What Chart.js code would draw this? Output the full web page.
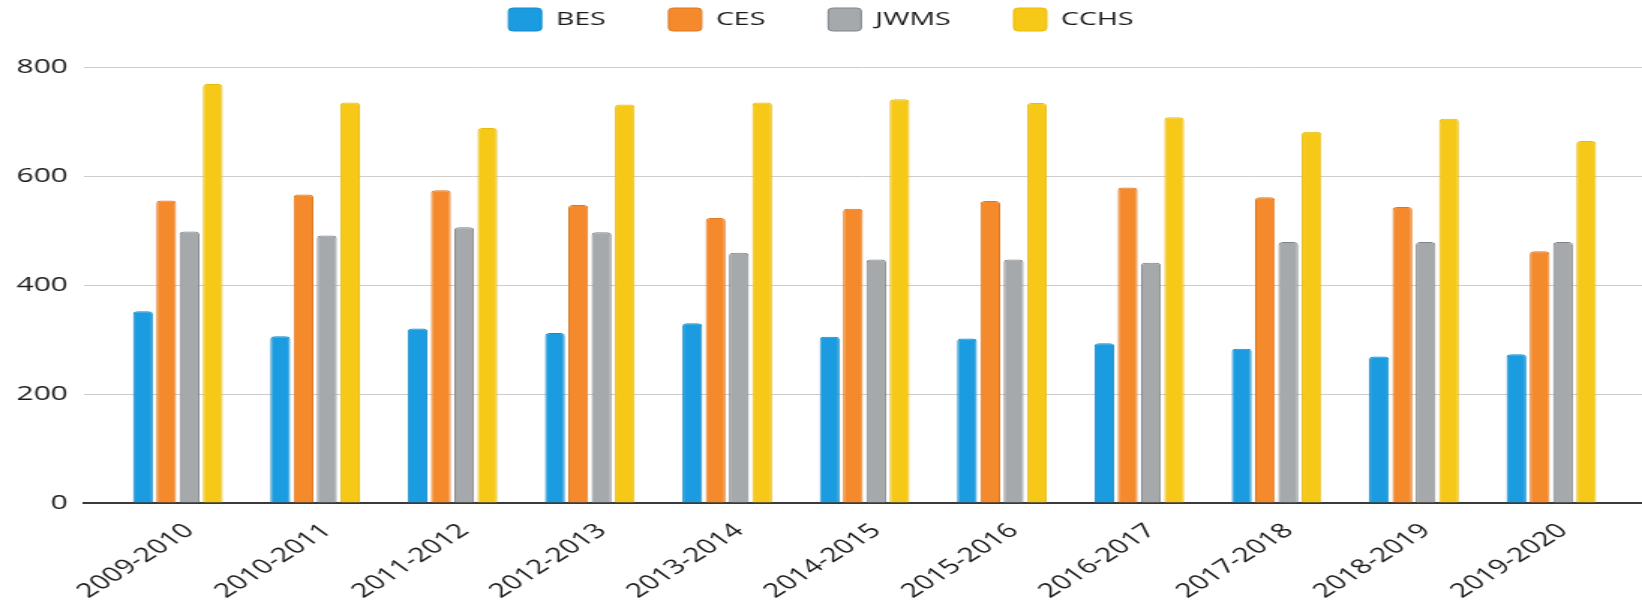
<!DOCTYPE html>
<html lang="en">
<head>
    <meta charset="UTF-8">
    <title>Enrollment by School</title>
    <script src="https://cdn.jsdelivr.net/npm/chart.js"></script>
    <style>
        html, body { margin: 0; padding: 0; background: #fff; overflow: hidden; }
        /* chart is laid out narrow and stretched sideways like the printed original */
        .stretch {
            width: 1095px;
            height: 603px;
            transform: scaleX(1.4995);
            transform-origin: 0 0;
        }
    </style>
</head>
<body>
    <div class="stretch">
        <canvas id="enrollChart"></canvas>
    </div>

    <script>
        const seasons = ['2009-2010', '2010-2011', '2011-2012', '2012-2013', '2013-2014', '2014-2015',
                         '2015-2016', '2016-2017', '2017-2018', '2018-2019', '2019-2020'];
        const besValues  = [352, 306, 320, 312, 330, 305, 302, 293, 283, 269, 273];
        const cesValues  = [555, 566, 574, 547, 523, 540, 554, 579, 561, 543, 462];
        const jwmsValues = [498, 491, 506, 497, 459, 447, 447, 441, 479, 479, 479];
        const cchsValues = [769, 735, 688, 731, 735, 741, 734, 708, 681, 705, 664];
        const yTicks = [0, 200, 400, 600, 800];

        Chart.defaults.font.family = "'Open Sans', sans-serif";
        Chart.defaults.color = '#1a1a1a';

        // x is a linear index axis so the plot can run a little past the outer groups
        const points = vals => vals.map((v, i) => ({ x: i, y: v }));

        const barStyle = {
            borderWidth: 1,
            borderSkipped: 'bottom',
            borderRadius: { topLeft: 3, topRight: 3, bottomLeft: 0, bottomRight: 0 },
            categoryPercentage: 0.678,
            barPercentage: 0.85
        };

        // keeps the legend up near the top edge, leaving room above the plot
        const legendLift = {
            id: 'legendLift',
            afterLayout(chart) {
                chart.legend.top -= 26;
                chart.legend.bottom -= 26;
            }
        };

        new Chart(document.getElementById('enrollChart'), {
            type: 'bar',
            data: {
                datasets: [
                    { label: 'BES',  data: points(besValues),  backgroundColor: '#1b9ce0', borderColor: '#1689c8', ...barStyle },
                    { label: 'CES',  data: points(cesValues),  backgroundColor: '#f58a2c', borderColor: '#dd7720', ...barStyle },
                    { label: 'JWMS', data: points(jwmsValues), backgroundColor: '#a6a9ac', borderColor: '#808387', ...barStyle },
                    { label: 'CCHS', data: points(cchsValues), backgroundColor: '#f6c919', borderColor: '#e8bb10', ...barStyle }
                ]
            },
            options: {
                responsive: true,
                maintainAspectRatio: false,
                animation: false,
                layout: { padding: { top: -8, left: 0, right: 0, bottom: 0 } },
                plugins: {
                    tooltip: { enabled: false },
                    legend: {
                        position: 'top',
                        labels: {
                            boxWidth: 22,
                            boxHeight: 23,
                            padding: 42,
                            useBorderRadius: true,
                            borderRadius: 3,
                            color: '#1a1a1a',
                            font: { size: 19 }
                        }
                    }
                },
                scales: {
                    x: {
                        type: 'linear',
                        offset: false,
                        min: -0.68,
                        max: 10.66,
                        grid: { display: false, drawTicks: false, offset: false },
                        border: { display: true, color: '#3a3a3a', width: 2 },
                        ticks: {
                            stepSize: 1,
                            autoSkip: false,
                            includeBounds: false,
                            minRotation: 43,
                            maxRotation: 43,
                            padding: 16,
                            labelOffset: 8,
                            color: '#1a1a1a',
                            font: { size: 20 },
                            callback: v => seasons[v] ?? ''
                        },
                        afterFit(scale) {
                            scale.height = 100;
                            scale.paddingLeft = 0;
                            scale.paddingRight = 0;
                        }
                    },
                    y: {
                        min: 0,
                        max: 800,
                        grid: { color: '#cdcdcd', lineWidth: 1, drawTicks: false },
                        border: { display: false },
                        afterBuildTicks(scale) {
                            scale.ticks = yTicks.map(v => ({ value: v }));
                        },
                        ticks: {
                            padding: 11,
                            color: '#1a1a1a',
                            font: { size: 20 }
                        }
                    }
                }
            },
            plugins: [legendLift]
        });
    </script>
</body>
</html>
